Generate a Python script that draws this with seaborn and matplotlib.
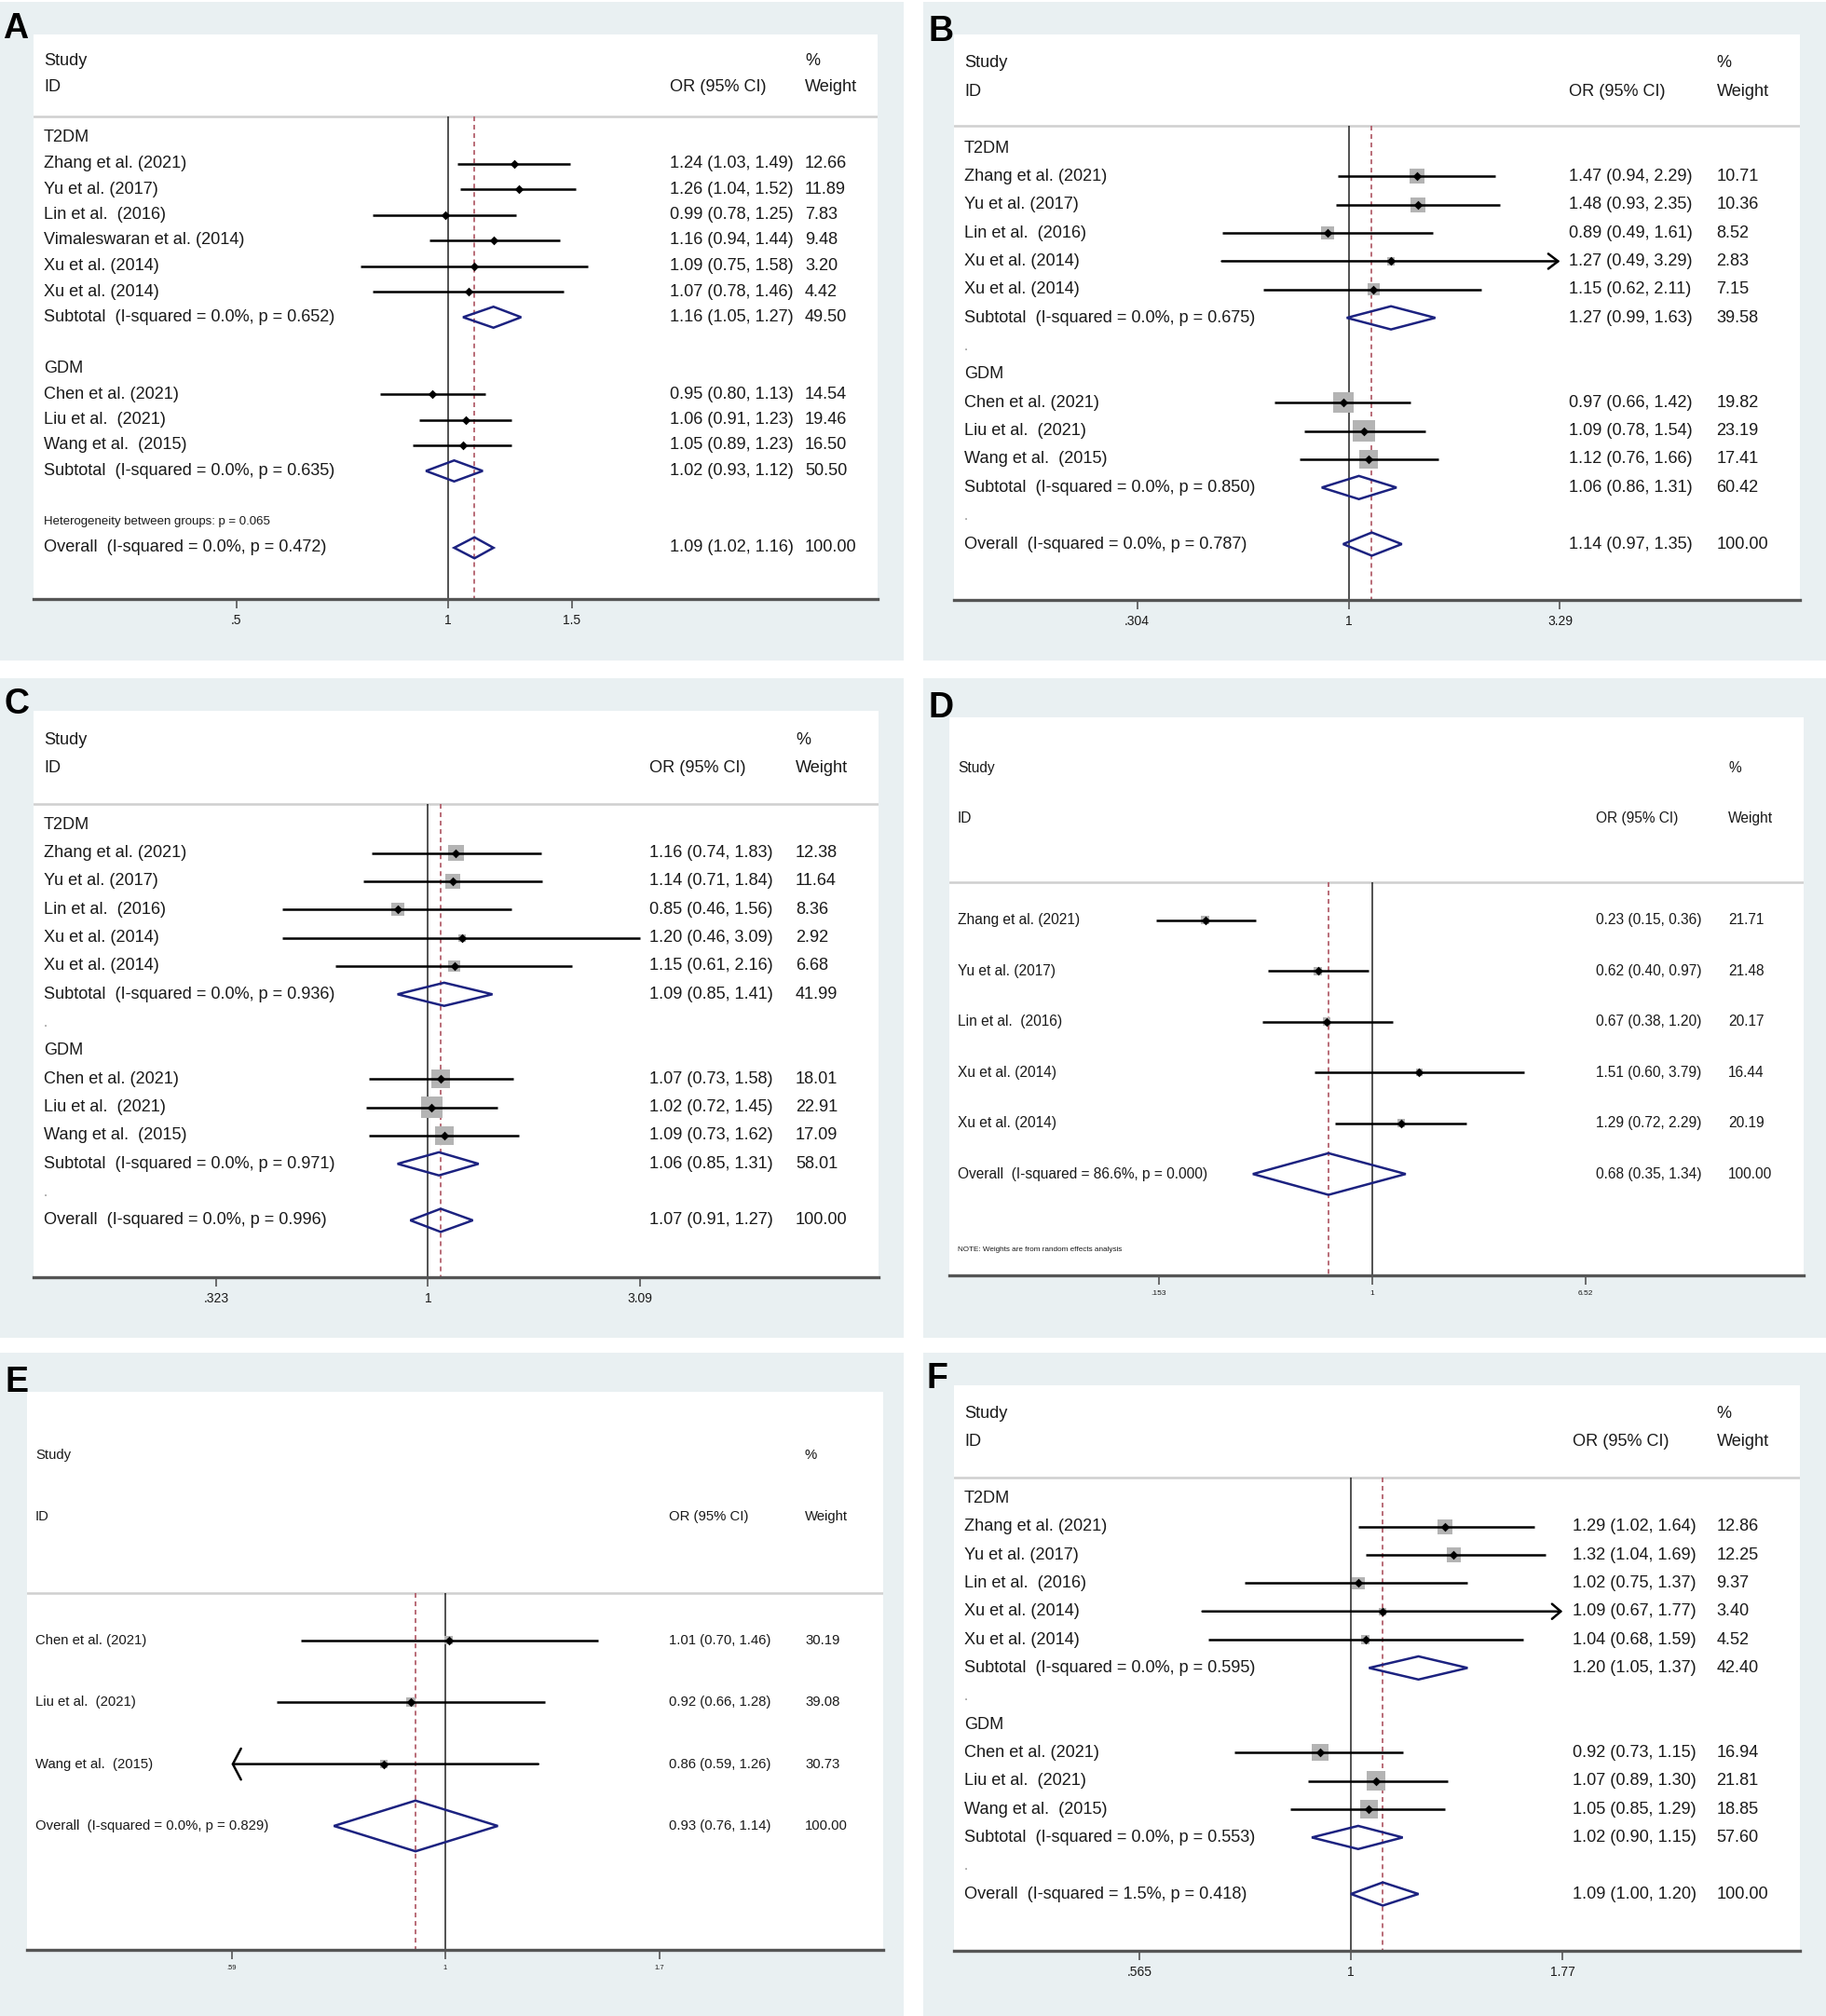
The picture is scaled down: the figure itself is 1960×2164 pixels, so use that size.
import numpy as np
import pandas as pd
import matplotlib
matplotlib.use("Agg")
import matplotlib.pyplot as plt
import seaborn as sns
from matplotlib.patches import Rectangle, Polygon
from matplotlib.patches import ArrowStyle
from matplotlib.ticker import NullLocator
from matplotlib import font_manager

nan = np.nan

# ---------------------------------------------------------------- data
# Panel A
A_kind = ['g', 's', 's', 's', 's', 's', 's', 'd', '', 'g', 's', 's', 's', 'd', '', '', 'o']
A_labels = ['T2DM', 'Zhang et al. (2021)', 'Yu et al. (2017)', 'Lin et al.  (2016)',
            'Vimaleswaran et al. (2014)', 'Xu et al. (2014)', 'Xu et al. (2014)',
            'Subtotal  (I-squared = 0.0%, p = 0.652)', '', 'GDM', 'Chen et al. (2021)',
            'Liu et al.  (2021)', 'Wang et al.  (2015)', 'Subtotal  (I-squared = 0.0%, p = 0.635)',
            '', '', 'Overall  (I-squared = 0.0%, p = 0.472)']
A_or = [nan, 1.24, 1.26, 0.99, 1.16, 1.09, 1.07, 1.16, nan, nan, 0.95, 1.06, 1.05, 1.02, nan, nan, 1.09]
A_lo = [nan, 1.03, 1.04, 0.78, 0.94, 0.75, 0.78, 1.05, nan, nan, 0.80, 0.91, 0.89, 0.93, nan, nan, 1.02]
A_hi = [nan, 1.49, 1.52, 1.25, 1.44, 1.58, 1.46, 1.27, nan, nan, 1.13, 1.23, 1.23, 1.12, nan, nan, 1.16]
A_wt = [nan, 12.66, 11.89, 7.83, 9.48, 3.20, 4.42, 49.50, nan, nan, 14.54, 19.46, 16.50, 50.50, nan, nan, 100.00]
A_note = 'Heterogeneity between groups: p = 0.065'
A_ticks = [0.5, 1, 1.5]
A_ticklabels = ['.5', '1', '1.5']

# Panel B
B_kind = ['g', 's', 's', 's', 's>', 's', 'd', '.', 'g', 's', 's', 's', 'd', '.', 'o']
B_labels = ['T2DM', 'Zhang et al. (2021)', 'Yu et al. (2017)', 'Lin et al.  (2016)',
            'Xu et al. (2014)', 'Xu et al. (2014)', 'Subtotal  (I-squared = 0.0%, p = 0.675)', '.',
            'GDM', 'Chen et al. (2021)', 'Liu et al.  (2021)', 'Wang et al.  (2015)',
            'Subtotal  (I-squared = 0.0%, p = 0.850)', '.', 'Overall  (I-squared = 0.0%, p = 0.787)']
B_or = [nan, 1.47, 1.48, 0.89, 1.27, 1.15, 1.27, nan, nan, 0.97, 1.09, 1.12, 1.06, nan, 1.14]
B_lo = [nan, 0.94, 0.93, 0.49, 0.49, 0.62, 0.99, nan, nan, 0.66, 0.78, 0.76, 0.86, nan, 0.97]
B_hi = [nan, 2.29, 2.35, 1.61, 3.29, 2.11, 1.63, nan, nan, 1.42, 1.54, 1.66, 1.31, nan, 1.35]
B_wt = [nan, 10.71, 10.36, 8.52, 2.83, 7.15, 39.58, nan, nan, 19.82, 23.19, 17.41, 60.42, nan, 100.00]
B_ticks = [0.304, 1, 3.29]
B_ticklabels = ['.304', '1', '3.29']

# Panel C
C_kind = ['g', 's', 's', 's', 's', 's', 'd', '.', 'g', 's', 's', 's', 'd', '.', 'o']
C_labels = ['T2DM', 'Zhang et al. (2021)', 'Yu et al. (2017)', 'Lin et al.  (2016)',
            'Xu et al. (2014)', 'Xu et al. (2014)', 'Subtotal  (I-squared = 0.0%, p = 0.936)', '.',
            'GDM', 'Chen et al. (2021)', 'Liu et al.  (2021)', 'Wang et al.  (2015)',
            'Subtotal  (I-squared = 0.0%, p = 0.971)', '.', 'Overall  (I-squared = 0.0%, p = 0.996)']
C_or = [nan, 1.16, 1.14, 0.85, 1.20, 1.15, 1.09, nan, nan, 1.07, 1.02, 1.09, 1.06, nan, 1.07]
C_lo = [nan, 0.74, 0.71, 0.46, 0.46, 0.61, 0.85, nan, nan, 0.73, 0.72, 0.73, 0.85, nan, 0.91]
C_hi = [nan, 1.83, 1.84, 1.56, 3.09, 2.16, 1.41, nan, nan, 1.58, 1.45, 1.62, 1.31, nan, 1.27]
C_wt = [nan, 12.38, 11.64, 8.36, 2.92, 6.68, 41.99, nan, nan, 18.01, 22.91, 17.09, 58.01, nan, 100.00]
C_ticks = [0.323, 1, 3.09]
C_ticklabels = ['.323', '1', '3.09']

# Panel D
D_kind = ['s', 's', 's', 's', 's', 'o']
D_labels = ['Zhang et al. (2021)', 'Yu et al. (2017)', 'Lin et al.  (2016)', 'Xu et al. (2014)',
            'Xu et al. (2014)', 'Overall  (I-squared = 86.6%, p = 0.000)']
D_or = [0.23, 0.62, 0.67, 1.51, 1.29, 0.68]
D_lo = [0.15, 0.40, 0.38, 0.60, 0.72, 0.35]
D_hi = [0.36, 0.97, 1.20, 3.79, 2.29, 1.34]
D_wt = [21.71, 21.48, 20.17, 16.44, 20.19, 100.00]
D_note = 'NOTE: Weights are from random effects analysis'
D_ticks = [0.153, 1, 6.52]
D_ticklabels = ['.153', '1', '6.52']

# Panel E
E_kind = ['s', 's', 's<', 'o']
E_labels = ['Chen et al. (2021)', 'Liu et al.  (2021)', 'Wang et al.  (2015)',
            'Overall  (I-squared = 0.0%, p = 0.829)']
E_or = [1.01, 0.92, 0.86, 0.93]
E_lo = [0.70, 0.66, 0.59, 0.76]
E_hi = [1.46, 1.28, 1.26, 1.14]
E_wt = [30.19, 39.08, 30.73, 100.00]
E_ticks = [0.59, 1, 1.7]
E_ticklabels = ['.59', '1', '1.7']

# Panel F
F_kind = ['g', 's', 's', 's', 's>', 's', 'd', '.', 'g', 's', 's', 's', 'd', '.', 'o']
F_labels = ['T2DM', 'Zhang et al. (2021)', 'Yu et al. (2017)', 'Lin et al.  (2016)',
            'Xu et al. (2014)', 'Xu et al. (2014)', 'Subtotal  (I-squared = 0.0%, p = 0.595)', '.',
            'GDM', 'Chen et al. (2021)', 'Liu et al.  (2021)', 'Wang et al.  (2015)',
            'Subtotal  (I-squared = 0.0%, p = 0.553)', '.', 'Overall  (I-squared = 1.5%, p = 0.418)']
F_or = [nan, 1.29, 1.32, 1.02, 1.09, 1.04, 1.20, nan, nan, 0.92, 1.07, 1.05, 1.02, nan, 1.09]
F_lo = [nan, 1.02, 1.04, 0.75, 0.67, 0.68, 1.05, nan, nan, 0.73, 0.89, 0.85, 0.90, nan, 1.00]
F_hi = [nan, 1.64, 1.69, 1.37, 1.77, 1.59, 1.37, nan, nan, 1.15, 1.30, 1.29, 1.15, nan, 1.20]
F_wt = [nan, 12.86, 12.25, 9.37, 3.40, 4.52, 42.40, nan, nan, 16.94, 21.81, 18.85, 57.60, nan, 100.00]
F_ticks = [0.565, 1, 1.77]
F_ticklabels = ['.565', '1', '1.77']

# ---------------------------------------------------------------- style
sns.set_theme(style="white")
names = {f.name for f in font_manager.fontManager.ttflist}
REG = 'Liberation Sans' if 'Liberation Sans' in names else 'DejaVu Sans'
HAS_NARROW = 'Liberation Sans Narrow' in names
NAR = 'Liberation Sans Narrow' if HAS_NARROW else REG
plt.rcParams['font.family'] = [REG, 'DejaVu Sans']

W, H = 1960, 2164
BG = '#e9f0f2'
SQ = '#b4b4b4'
NAVY = '#1c2280'
RED = '#b3606c'
TXT = '#1a1a1a'

if HAS_NARROW:
    de_fs = {'D': 13.4, 'E': 12.9}
    de_tfs = {'D': 7.0, 'E': 6.4}
    note_fs_d = 7.1
else:
    de_fs = {'D': 11.2, 'E': 10.7}
    de_tfs = {'D': 6.0, 'E': 5.4}
    note_fs_d = 5.9

LAYOUT = {
    'A': dict(bg=(0, 2, 970, 709), box=(36, 37, 942, 643), row0=148, step=27.5, px1=481, k=328,
              cols=(47, 719, 864), hline=-0.84, fam=REG, fs=13.1, tfs=10, sq=0.0,
              letter=(3, 41), note_row=15, note_fs=9.5, head=None),
    'B': dict(bg=(991, 2, 1960, 709), box=(1024, 37, 1932, 644), row0=159, step=30.36, px1=1447.5, k=190.6,
              cols=(1035, 1684.4, 1842.5), hline=-0.79, fam=REG, fs=13.1, tfs=10, sq=4.9,
              letter=(996, 44), note_row=None, note_fs=None, head=(7.6, 5.8)),
    'C': dict(bg=(0, 728, 970, 1436), box=(36, 763, 942.5, 1370.6), row0=885.3, step=30.33, px1=459.4, k=201.3,
              cols=(47, 697, 854), hline=-0.73, fam=REG, fs=13.1, tfs=10, sq=4.8,
              letter=(5, 766), note_row=None, note_fs=None, head=None),
    'D': dict(bg=(991, 728, 1960, 1436), box=(1018.75, 769.6, 1936, 1368.8), row0=987.7, step=54.5, px1=1473.1, k=122.2,
              cols=(1028, 1712.5, 1855), hline=-0.75, fam=NAR, fs=de_fs['D'], tfs=de_tfs['D'], sq=1.9,
              letter=(996, 770), note_row=6.5, note_fs=note_fs_d, head=None),
    'E': dict(bg=(0, 1452, 970, 2164), box=(28.75, 1493.6, 948, 2092.8), row0=1760.8, step=66.4, px1=477.5, k=434,
              cols=(38, 717.5, 864), hline=-0.76, fam=NAR, fs=de_fs['E'], tfs=de_tfs['E'], sq=1.6,
              letter=(6, 1494), note_row=None, note_fs=None, head=(6.3, 12.0)),
    'F': dict(bg=(991, 1452, 1960, 2164), box=(1023.75, 1486.7, 1932, 2093.7), row0=1608.4, step=30.33, px1=1450, k=398,
              cols=(1035, 1687.5, 1842.5), hline=-0.73, fam=REG, fs=13.1, tfs=10, sq=4.4,
              letter=(994, 1490), note_row=None, note_fs=None, head=(6.8, 5.8)),
}

fig = plt.figure(figsize=(W / 100, H / 100), dpi=100, facecolor='white')


def draw_panel(key, labels, kind, est, lo, hi, wt, ticks, ticklabels, note=None):
    L = LAYOUT[key]
    bx0, by0, bx1, by1 = L['bg']
    fig.add_artist(Rectangle((bx0 / W, 1 - by1 / H), (bx1 - bx0) / W, (by1 - by0) / H,
                             transform=fig.transFigure, facecolor=BG, edgecolor='none', zorder=-5))
    x0, y0, x1, y1 = L['box']
    ax = fig.add_axes([x0 / W, 1 - y1 / H, (x1 - x0) / W, (y1 - y0) / H])
    ax.set_facecolor('white')
    ax.set_xscale('log')

    df = pd.DataFrame({'label': labels, 'kind': kind, 'or': est, 'lo': lo, 'hi': hi, 'wt': wt})
    df['row'] = np.arange(len(df), dtype=float)
    st = df[df['kind'].str.startswith('s')]

    xmin = np.exp((x0 - L['px1']) / L['k'])
    xmax = np.exp((x1 - L['px1']) / L['k'])
    rtop = (y0 - L['row0']) / L['step']
    rbot = (y1 - L['row0']) / L['step']

    fam, fs = L['fam'], L['fs']
    ov = df[df['kind'] == 'o'].iloc[0]

    # reference lines
    ax.axhline(L['hline'], color='#cfcfcf', lw=1.8, zorder=1)
    ax.vlines(1, L['hline'], rbot, colors='#222222', lw=1.1, zorder=2)
    ax.vlines(ov['or'], L['hline'], rbot, colors=RED, lw=1.3, linestyles=(0, (2.8, 2.2)), zorder=2)

    # weight squares
    if L['sq'] > 0:
        side = L['sq'] * np.sqrt(st['wt'].values) * 0.72
        ax.scatter(st['or'], st['row'], marker='s', s=side ** 2, color=SQ, linewidths=0, zorder=3)

    # confidence intervals
    plain = st[st['kind'] == 's']
    ax.hlines(plain['row'], plain['lo'], plain['hi'], colors='black', lw=1.8, zorder=4)
    for _, r in st[st['kind'] != 's'].iterrows():
        hl, hw = L['head']
        style = ArrowStyle('->', head_length=hl / 10, head_width=hw / 10)
        if r['kind'] == 's>':
            a, b = (r['hi'], r['row']), (r['lo'], r['row'])
        else:
            a, b = (r['lo'], r['row']), (r['hi'], r['row'])
        ax.annotate('', xy=a, xytext=b, zorder=4,
                    arrowprops=dict(arrowstyle=style, mutation_scale=10, lw=1.8, color='black',
                                    shrinkA=0, shrinkB=0))

    # point estimates
    sns.scatterplot(data=st, x='or', y='row', marker='D', s=24, color='black',
                    edgecolor='black', linewidth=0, zorder=5, ax=ax, legend=False)

    # diamonds
    h = 0.41
    for _, r in df[df['kind'].isin(['d', 'o'])].iterrows():
        pts = [(r['lo'], r['row']), (r['or'], r['row'] - h), (r['hi'], r['row']), (r['or'], r['row'] + h)]
        ax.add_patch(Polygon(pts, closed=True, fill=False, edgecolor=NAVY, lw=1.8,
                             joinstyle='miter', zorder=6))

    # text columns
    tr = ax.get_yaxis_transform()
    cx = [(c - x0) / (x1 - x0) for c in L['cols']]
    kw = dict(transform=tr, va='center', ha='left', family=[fam, 'DejaVu Sans'], fontsize=fs, color=TXT)
    ax.text(cx[0], -3, 'Study', **kw)
    ax.text(cx[0], -2, 'ID', **kw)
    ax.text(cx[1], -2, 'OR (95% CI)', **kw)
    ax.text(cx[2], -3, '%', **kw)
    ax.text(cx[2], -2, 'Weight', **kw)
    for _, r in df.iterrows():
        if r['kind'] == '':
            continue
        if r['kind'] == '.':
            ax.text(cx[0], r['row'], '.', transform=tr, va='center', ha='left',
                    family=[fam, 'DejaVu Sans'], fontsize=fs * 0.8, color='#8a8a8a')
            continue
        ax.text(cx[0], r['row'], r['label'], **kw)
        if r['kind'] != 'g':
            ax.text(cx[1], r['row'], f"{r['or']:.2f} ({r['lo']:.2f}, {r['hi']:.2f})", **kw)
            ax.text(cx[2], r['row'], f"{r['wt']:.2f}", **kw)
    if note is not None:
        ax.text(cx[0], L['note_row'], note, transform=tr, va='center', ha='left',
                family=[fam, 'DejaVu Sans'], fontsize=L['note_fs'], color=TXT)

    # axes cosmetics
    ax.set_xlim(xmin, xmax)
    ax.set_ylim(rbot, rtop)
    ax.set_xlabel('')
    ax.set_ylabel('')
    ax.set_yticks([])
    ax.set_xticks(ticks)
    ax.set_xticklabels(ticklabels, fontsize=L['tfs'], family=[fam, 'DejaVu Sans'], color=TXT)
    ax.xaxis.set_minor_locator(NullLocator())
    ax.tick_params(axis='x', which='major', bottom=True, direction='out', length=7.5,
                   width=1.2, color='#555555', pad=4)
    for s in ['top', 'left', 'right']:
        ax.spines[s].set_visible(False)
    ax.spines['bottom'].set_color('#555555')
    ax.spines['bottom'].set_linewidth(2.4)

    lx, ly = L['letter']
    fig.text(lx / W, 1 - ly / H, key, fontsize=27, fontweight='bold', ha='left', va='baseline',
             family=[REG, 'DejaVu Sans'], color='black')
    return ax


draw_panel('A', A_labels, A_kind, A_or, A_lo, A_hi, A_wt, A_ticks, A_ticklabels, note=A_note)
draw_panel('B', B_labels, B_kind, B_or, B_lo, B_hi, B_wt, B_ticks, B_ticklabels)
draw_panel('C', C_labels, C_kind, C_or, C_lo, C_hi, C_wt, C_ticks, C_ticklabels)
draw_panel('D', D_labels, D_kind, D_or, D_lo, D_hi, D_wt, D_ticks, D_ticklabels, note=D_note)
draw_panel('E', E_labels, E_kind, E_or, E_lo, E_hi, E_wt, E_ticks, E_ticklabels)
draw_panel('F', F_labels, F_kind, F_or, F_lo, F_hi, F_wt, F_ticks, F_ticklabels)

fig.savefig('out.png', dpi=100, facecolor='white')
